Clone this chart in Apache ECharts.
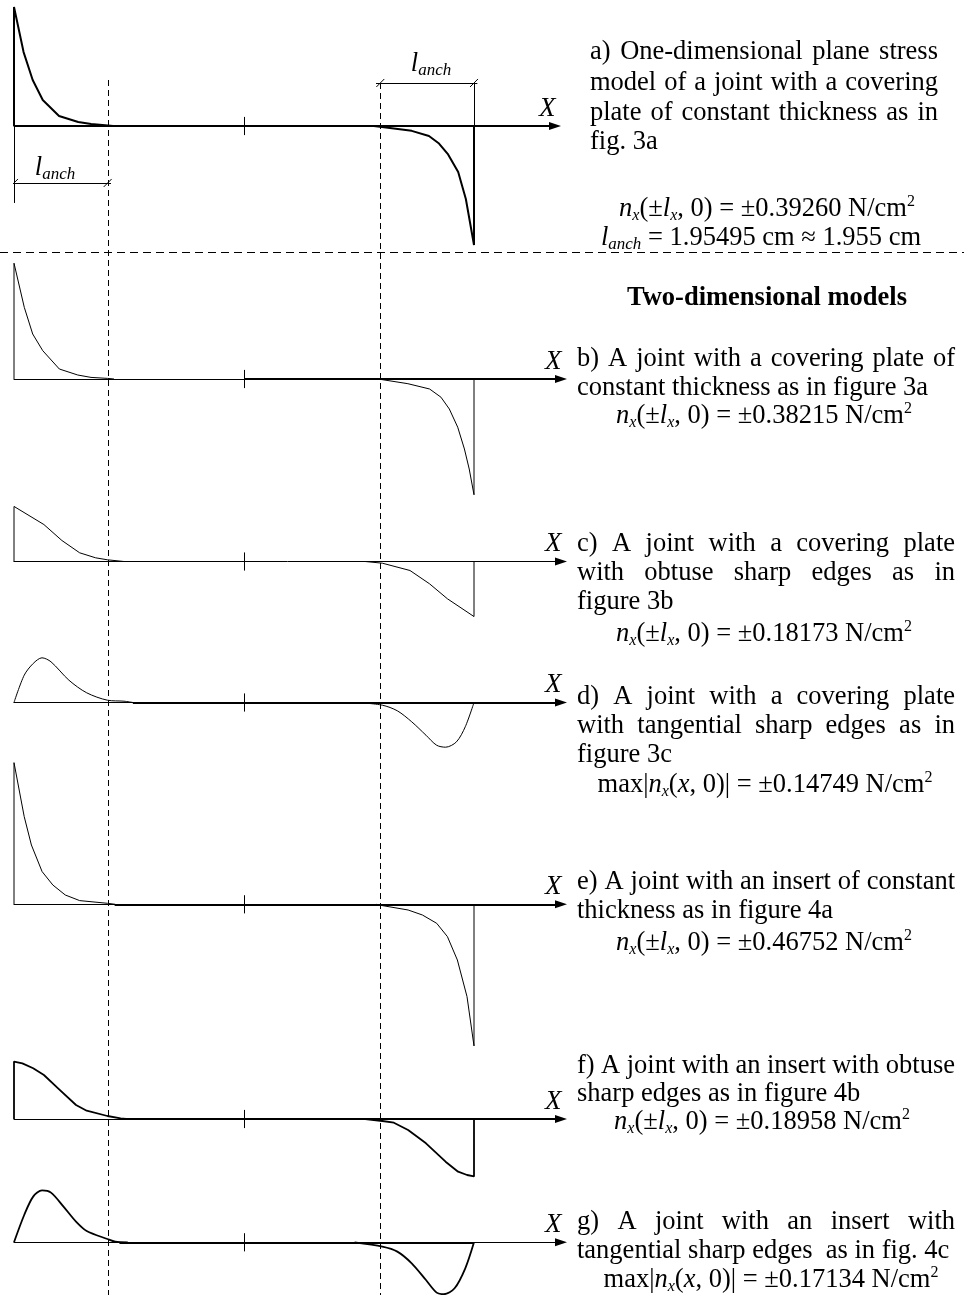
<!DOCTYPE html>
<html><head><meta charset="utf-8">
<script src="https://cdn.jsdelivr.net/npm/echarts@6/dist/echarts.min.js"></script>
<style>html,body{margin:0;padding:0;background:#fff}#c{width:964px;height:1295px}</style>
</head><body><div id="c"></div>
<script>
// ---------------- data (x in cm from joint centre, n_x in N/cm^2) ----------------
const LX = 4.8;          // half length of the joint, cm
const L_ANCH = 1.955;    // anchorage length, cm

const aLeft  = [[-4.8,0],[-4.8,0.3926],[-4.6,0.244],[-4.41,0.152],[-4.2,0.086],[-3.86,0.033],[-3.46,0.013],[-3.19,0.0066],[-2.84,0.0017],[-2.73,0]];
const aRight = [[2.71,0],[2.88,-0.003],[3.5,-0.016],[3.86,-0.033],[4.07,-0.058],[4.26,-0.094],[4.47,-0.152],[4.63,-0.241],[4.8,-0.3926],[4.8,0]];

const bLeft  = [[-4.8,0],[-4.8,0.38215],[-4.585,0.2363],[-4.41,0.1485],[-4.2,0.0934],[-3.854,0.033],[-3.47,0.0132],[-3.193,0.0053],[-2.845,0.002],[-2.713,0]];
const bRight = [[2.65,0],[2.88,-0.002],[3.42,-0.0155],[3.873,-0.033],[4.11,-0.06],[4.285,-0.099],[4.46,-0.159],[4.6,-0.231],[4.7,-0.297],[4.8,-0.38215],[4.8,0]];

const cLeft  = [[-4.8,0],[-4.8,0.18173],[-4.176,0.122],[-3.8,0.0693],[-3.43,0.0287],[-3.097,0.0122],[-2.85,0.0056],[-2.504,0]];
const cRight = [[2.53,0],[2.888,-0.0056],[3.464,-0.0297],[3.873,-0.0737],[4.245,-0.123],[4.8,-0.18173],[4.8,0]];

const dLeft  = [[-4.8,0],[-4.587,0.0901],[-4.4,0.1287],[-4.216,0.1475],[-4.028,0.1343],[-3.654,0.0736],[-3.283,0.032],[-2.85,0.0076],[-2.504,0.0043],[-2.317,0]];
const dRight = [[2.379,0],[2.888,-0.0089],[3.2,-0.0274],[3.5,-0.0637],[3.798,-0.108],[4.02,-0.141],[4.207,-0.1475],[4.433,-0.13],[4.618,-0.08],[4.8,0]];

const eLeft  = [[-4.8,0],[-4.8,0.46752],[-4.587,0.2894],[-4.437,0.1957],[-4.214,0.108],[-3.99,0.0637],[-3.73,0.0307],[-3.43,0.0122],[-2.85,0.0033],[-2.686,0]];
const eRight = [[2.755,0],[2.888,-0.0043],[3.425,-0.0188],[3.723,-0.0353],[4.021,-0.0627],[4.245,-0.1066],[4.453,-0.1838],[4.654,-0.3046],[4.8,-0.46752],[4.8,0]];

const fLeft  = [[-4.8,0],[-4.8,0.18958],[-4.625,0.1838],[-4.4,0.1673],[-4.176,0.1452],[-3.88,0.1013],[-3.506,0.0462],[-3.283,0.0274],[-2.85,0.0099],[-2.575,0.0023],[-2.463,0]];
const fRight = [[2.53,0],[2.888,-0.0066],[3.128,-0.0122],[3.425,-0.0363],[3.798,-0.0802],[4.207,-0.1409],[4.468,-0.1739],[4.656,-0.1848],[4.8,-0.18958],[4.8,0]];

const gLeft  = [[-4.8,0],[-4.587,0.0901],[-4.4,0.1508],[-4.214,0.1713],[-4.028,0.164],[-3.767,0.1178],[-3.506,0.0683],[-3.283,0.0373],[-2.85,0.0109],[-2.686,0.0023],[-2.425,0]];
const gRight = [[2.308,0],[2.888,-0.0142],[3.2,-0.0307],[3.5,-0.0693],[3.798,-0.1244],[4.021,-0.166],[4.172,-0.1713],[4.395,-0.1518],[4.618,-0.0858],[4.8,0]];

// heavy parts of the X axis [from, to] (cm), null = none
const heavyAxis = [[-4.8,6.49],[0,6.615],null,[-2.32,6.615],[-2.7,6.615],[-2.58,6.615],[-2.6,4.8]];
// centre tick half-height (N/cm^2 units)
const centreTick = [[0,-0.03],[0,0.03]];
// dimension construction lines of panel a
const aExtLines = [[[-4.8,0],[-4.8,-0.254]],[[4.8,0],[4.8,0.142]]];
const aDimLines = [[[-4.93,-0.188],[-2.776,-0.188]],[[2.755,0.142],[4.87,0.142]]];
const aDimMarks = [[-4.8,-0.188],[-LX+L_ANCH,-0.188],[LX-L_ANCH,0.142],[4.8,0.142]];

// texts
const textA = ["a) One-dimensional plane stress","model of a joint with a covering","plate of constant thickness as in","fig. 3a"];
const heading = "Two-dimensional models";
const textB = ["b) A joint with a covering plate of","constant thickness as in figure 3a"];
const textC = ["c) A joint with a covering plate","with obtuse sharp edges as in","figure 3b"];
const textD = ["d) A joint with a covering plate","with tangential sharp edges as in","figure 3c"];
const textE = ["e) A joint with an insert of constant","thickness as in figure 4a"];
const textF = ["f) A joint with an insert with obtuse","sharp edges as in figure 4b"];
const textG = ["g) A joint with an insert with","tangential sharp edges  as in fig. 4c"];
const valA = "0.39260", lAnchText = "1.95495 cm ≈ 1.955 cm";
const valB = "0.38215", valC = "0.18173", valD = "0.14749", valE = "0.46752", valF = "0.18958", valG = "0.17134";

// ---------------- layout ----------------
const W = 964, H = 1295;
const PXCM = 230 / 4.8, KY = 303, X0 = 14;
const SERIF = 'Liberation Serif', FS = 26.5;
const layout = [
  {base:126,   xEnd:6.49,  w:2,   smooth:false, curves:[aLeft,aRight]},
  {base:379,   xEnd:6.615, w:1,   smooth:false, curves:[bLeft,bRight]},
  {base:561.5, xEnd:6.615, w:1,   smooth:false, curves:[cLeft,cRight]},
  {base:702.5, xEnd:6.615, w:1,   smooth:0.3,   curves:[dLeft,dRight]},
  {base:904.3, xEnd:6.615, w:1,   smooth:false, curves:[eLeft,eRight]},
  {base:1119,  xEnd:6.615, w:1.8, smooth:false, curves:[fLeft,fRight]},
  {base:1242.3,xEnd:6.615, w:1.8, smooth:0.3,   curves:[gLeft,gRight]}
];

const grid = [], xAxis = [], yAxis = [], series = [];
const BLACK = '#000';
layout.forEach((p, i) => {
  const ymax = Math.min(0.5, p.base / KY);
  const ymin = -Math.min(0.5, (H - p.base) / KY);
  grid.push({left:X0, top:p.base - ymax*KY, width:(p.xEnd + LX)*PXCM, height:(ymax - ymin)*KY,
             containLabel:false, outerBoundsMode:'none'});
  xAxis.push({gridIndex:i, type:'value', min:-LX, max:p.xEnd,
    axisLine:{show:true, onZero:true, symbol:['none','triangle'], symbolSize:[8,12], lineStyle:{color:BLACK, width:1}},
    axisTick:{show:false}, axisLabel:{show:false}, splitLine:{show:false},
    name:'X', nameLocation:'end', nameGap:-16,
    nameTextStyle:{fontFamily:SERIF, fontStyle:'italic', fontSize:27, lineHeight:27, color:BLACK, verticalAlign:'bottom', padding:[0,0,4,0]}});
  yAxis.push({gridIndex:i, type:'value', min:ymin, max:ymax, show:false});
  p.curves.forEach(c => series.push({type:'line', xAxisIndex:i, yAxisIndex:i, data:c, symbol:'none', showSymbol:false,
      smooth:p.smooth, lineStyle:{color:BLACK, width:p.w}, silent:true, animation:false, z:3}));
  const segs = [{coords:centreTick}];
  if (heavyAxis[i]) series.push({type:'lines', coordinateSystem:'cartesian2d', xAxisIndex:i, yAxisIndex:i,
      data:[{coords:[[heavyAxis[i][0],0],[heavyAxis[i][1],0]]}], lineStyle:{color:BLACK, width:2, opacity:1, curveness:0},
      silent:true, animation:false, z:2});
  if (i === 0) {
    aExtLines.forEach(s => segs.push({coords:s}));
    aDimLines.forEach(s => segs.push({coords:s}));
    aDimMarks.forEach(m => segs.push({coords:[[m[0]-0.083, m[1]-0.0132],[m[0]+0.083, m[1]+0.0132]]}));
  }
  series.push({type:'lines', coordinateSystem:'cartesian2d', xAxisIndex:i, yAxisIndex:i, data:segs,
      lineStyle:{color:BLACK, width:1, opacity:1, curveness:0}, silent:true, animation:false, z:2});
});

const chart = echarts.init(document.getElementById('c'), null, {renderer:'canvas', width:W, height:H});
chart.setOption({backgroundColor:'#fff', animation:false, grid, xAxis, yAxis, series});

// ---------------- texts and dashed guide lines ----------------
const mctx = document.createElement('canvas').getContext('2d');
function tw(s, font) { mctx.font = font; return mctx.measureText(s).width; }
const RICH = {
  i:  {fontFamily:SERIF, fontStyle:'italic', fontSize:FS, lineHeight:30, fill:BLACK, color:BLACK},
  sb: {fontFamily:SERIF, fontStyle:'italic', fontSize:16, lineHeight:16, verticalAlign:'bottom', fill:BLACK, color:BLACK},
  sa: {fontFamily:SERIF, fontStyle:'italic', fontSize:17, lineHeight:20, verticalAlign:'bottom', fill:BLACK, color:BLACK},
  sp: {fontFamily:SERIF, fontSize:16, lineHeight:24, verticalAlign:'top', fill:BLACK, color:BLACK}
};
function txt(text, x, y, align, extra) {
  return {type:'text', x:x, y:y, silent:true, z:10,
    style:Object.assign({text:text, fill:BLACK, fontFamily:SERIF, fontSize:FS, lineHeight:30,
      align:align, textAlign:align, verticalAlign:'middle', textVerticalAlign:'middle', rich:RICH}, extra || {})};
}
const G = [];
function para(lines, x0, x1, ys, justifyN) {
  const font = 'normal normal ' + FS + 'px "' + SERIF + '"';
  lines.forEach((line, k) => {
    if (k < justifyN) {
      const words = line.split(' ');
      const ws = words.map(w => tw(w, font));
      const gap = (x1 - x0 - ws.reduce((a, b) => a + b, 0)) / (words.length - 1);
      let x = x0;
      words.forEach((w, j) => { G.push(txt(w, x, ys[k], 'left')); x += ws[j] + gap; });
    } else {
      G.push(txt(line, x0, ys[k], 'left'));
    }
  });
}
const nxAtEnd = v => '{i|n}{sb|x}(±{i|l}{sb|x}, 0) = ±' + v + ' N/cm{sp|2}';
const nxMax = v => 'max|{i|n}{sb|x}({i|x}, 0)| = ±' + v + ' N/cm{sp|2}';

para(textA, 590, 938, [52,83,113,142], 3);
G.push(txt(nxAtEnd(valA), 767, 209, 'center'));
G.push(txt('{i|l}{sa|anch} = ' + lAnchText, 761, 238, 'center'));
G.push(txt(heading, 767, 298, 'center', {fontWeight:'bold'}));
para(textB, 577, 955, [359,388], 1);
G.push(txt(nxAtEnd(valB), 764, 416, 'center'));
para(textC, 577, 955, [544,573,602], 2);
G.push(txt(nxAtEnd(valC), 764, 634, 'center'));
para(textD, 577, 955, [697,726,755], 2);
G.push(txt(nxMax(valD), 765, 785, 'center'));
para(textE, 577, 955, [882,911], 1);
G.push(txt(nxAtEnd(valE), 764, 943, 'center'));
para(textF, 577, 955, [1066,1094], 1);
G.push(txt(nxAtEnd(valF), 762, 1122, 'center'));
para(textG, 577, 955, [1222,1251], 1);
G.push(txt(nxMax(valG), 771, 1280, 'center'));

// l_anch dimension labels
G.push(txt('{i|l}{sa|anch}', 55, 168, 'center', {fontStyle:'italic'}));
G.push(txt('{i|l}{sa|anch}', 431, 64, 'center', {fontStyle:'italic'}));

// dashed guides
const xl = chart.convertToPixel({gridIndex:0}, [-LX + L_ANCH, 0])[0];
const xr = chart.convertToPixel({gridIndex:0}, [LX - L_ANCH, 0])[0];
const dash = {stroke:BLACK, lineWidth:1, lineDash:[6,4], fill:null};
G.push({type:'line', silent:true, z:1, shape:{x1:Math.round(xl)+0.5, y1:80, x2:Math.round(xl)+0.5, y2:H}, style:dash});
G.push({type:'line', silent:true, z:1, shape:{x1:Math.round(xr)+0.5, y1:83, x2:Math.round(xr)+0.5, y2:H}, style:dash});
G.push({type:'line', silent:true, z:1, shape:{x1:0, y1:252.5, x2:W, y2:252.5}, style:{stroke:BLACK, lineWidth:1, lineDash:[8,5], fill:null}});

chart.setOption({graphic:{elements:G}});
</script></body></html>
